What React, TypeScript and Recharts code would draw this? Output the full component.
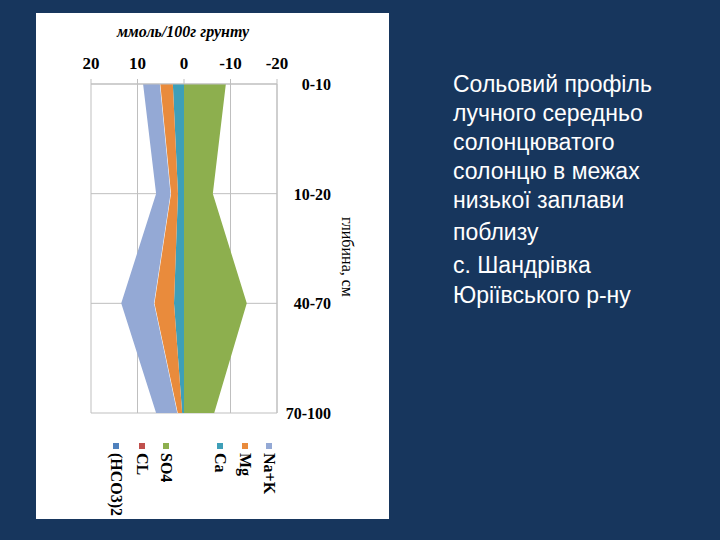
import { AreaChart, Area, XAxis, YAxis, CartesianGrid } from 'recharts';

// depth layers, top to bottom
const depths = ['0-10', '10-20', '40-70', '70-100'];

// anions (negative, drawn to the right)
const hco3 = [0, 0, 0, 0];
const cl = [0, 0, 0, 0];
const so4 = [-9.0, -6.2, -13.5, -6.5];

// cations (positive, drawn to the left)
const ca = [2.4, 1.3, 2.15, 0.4];
const mg = [2.8, 1.6, 4.3, 1.05];
const naK = [3.6, 3.1, 7.05, 4.55];

const xTicks = [20, 10, 0, -10, -20];

const data = depths.map((depth, i) => ({
  depth,
  hco3: hco3[i],
  cl: cl[i],
  so4: so4[i],
  ca: ca[i],
  mg: mg[i],
  naK: naK[i],
}));

const series = [
  { key: 'hco3', name: '(HCO3)2', color: '#4F81BD', stack: 'anion' },
  { key: 'cl', name: 'CL', color: '#C0504D', stack: 'anion' },
  { key: 'so4', name: 'SO4', color: '#8DAF4E', stack: 'anion' },
  { key: 'ca', name: 'Ca', color: '#3E9FB8', stack: 'cation' },
  { key: 'mg', name: 'Mg', color: '#E98B3C', stack: 'cation' },
  { key: 'naK', name: 'Na+K', color: '#94A9D5', stack: 'cation' },
];

const legendX = [80, 106, 130, 184, 209, 233];

const serif = '"Liberation Serif", "Times New Roman", serif';
const sans = '"Liberation Sans", Arial, sans-serif';

const DepthTick = (props: any) => {
  const { x, y, payload } = props;
  return (
    <text x={x + 54} y={y} dy={6} textAnchor="end" fontFamily={serif} fontWeight="bold" fontSize={16} fill="#000">
      {payload.value}
    </text>
  );
};

export default function App() {
  return (
    <div style={{ position: 'absolute', left: 0, top: 0, width: 720, height: 540, background: '#17365D', overflow: 'hidden' }}>
      <div style={{ position: 'absolute', left: 36, top: 13, width: 353, height: 506, background: '#fff' }}>
        <AreaChart
          width={353}
          height={506}
          data={data}
          layout="vertical"
          margin={{ top: 41, right: 52, bottom: 106, left: 55 }}
        >
          <CartesianGrid stroke="#BFBFBF" />
          <XAxis
            type="number"
            orientation="top"
            domain={[-20, 20]}
            ticks={xTicks}
            reversed
            height={30}
            axisLine={{ stroke: '#BFBFBF' }}
            tickLine={{ stroke: '#BFBFBF' }}
            tickSize={5}
            tickMargin={10}
            tick={{ fill: '#000', fontSize: 17, fontWeight: 'bold', fontFamily: serif }}
          />
          <YAxis
            type="category"
            dataKey="depth"
            orientation="right"
            width={60}
            axisLine={{ stroke: '#BFBFBF' }}
            tickLine={false}
            tickSize={0}
            tickMargin={0}
            tick={<DepthTick />}
          />
          {series.map((s) => (
            <Area
              key={s.key}
              dataKey={s.key}
              name={s.name}
              stackId={s.stack}
              type="linear"
              fill={s.color}
              fillOpacity={1}
              stroke={s.key === 'mg' ? '#fff' : 'none'}
              strokeWidth={1}
              dot={false}
              activeDot={false}
              isAnimationActive={false}
            />
          ))}
        </AreaChart>
        <svg width={353} height={506} style={{ position: 'absolute', left: 0, top: 0, pointerEvents: 'none' }}>
          <text x={147} y={18} dy={6} textAnchor="middle" fontFamily={serif} fontWeight="bold" fontStyle="italic" fontSize={16} fill="#000">
            ммоль/100г грунту
          </text>
          <text
            transform="translate(311,244) rotate(90)"
            textAnchor="middle"
            dominantBaseline="central"
            fontFamily={serif}
            fontSize={16}
            fill="#000"
          >
            глибина, см
          </text>
          {series.map((s, i) => (
            <g key={s.key}>
              <rect x={legendX[i] - 3} y={430} width={6} height={6} fill={s.color} />
              <text
                transform={`translate(${legendX[i]},440) rotate(90)`}
                textAnchor="start"
                dominantBaseline="central"
                fontFamily={serif}
                fontWeight="bold"
                fontSize={16}
                fill="#000"
              >
                {s.name}
              </text>
            </g>
          ))}
        </svg>
      </div>
      <div style={{ position: 'absolute', left: 453, top: 70, color: '#fff', fontFamily: sans, fontSize: 23, lineHeight: '29px', whiteSpace: 'nowrap' }}>
        Сольовий профіль<br />
        лучного середньо<br />
        солонцюватого<br />
        солонцю в межах<br />
        низької заплави
      </div>
      <div style={{ position: 'absolute', left: 453, top: 218, color: '#fff', fontFamily: sans, fontSize: 23, lineHeight: '29px', whiteSpace: 'nowrap' }}>
        поблизу
      </div>
      <div style={{ position: 'absolute', left: 453, top: 250, color: '#fff', fontFamily: sans, fontSize: 23, lineHeight: '30px', whiteSpace: 'nowrap' }}>
        с. Шандрівка<br />
        Юріївського р-ну
      </div>
    </div>
  );
}
